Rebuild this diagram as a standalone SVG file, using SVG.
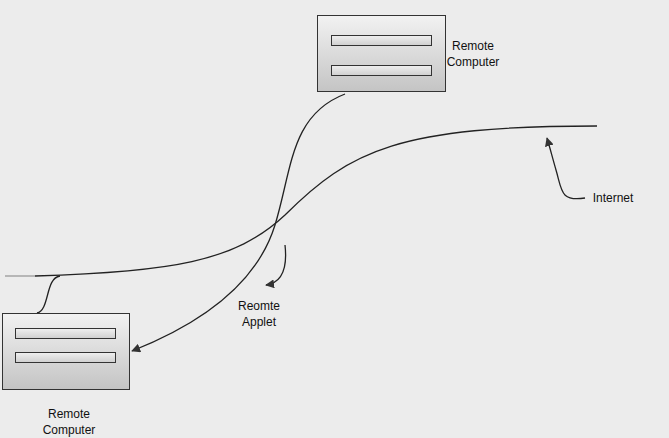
<svg xmlns="http://www.w3.org/2000/svg" width="669" height="438" viewBox="0 0 669 438">
<defs>
<linearGradient id="gBox" x1="0" y1="0" x2="0" y2="1">
<stop offset="0" stop-color="#f2f2f2"/>
<stop offset="1" stop-color="#c4c4c4"/>
</linearGradient>
<linearGradient id="gBar" x1="0" y1="0" x2="0" y2="1">
<stop offset="0" stop-color="#f0f0f0"/>
<stop offset="1" stop-color="#cfcfcf"/>
</linearGradient>
<marker id="arr" viewBox="0 0 10 10" refX="9" refY="5" markerWidth="9" markerHeight="9" orient="auto" markerUnits="userSpaceOnUse">
<path d="M0,0 L10,5 L0,10 Z" fill="#333"/>
</marker>
</defs>
<style>
.box{fill:url(#gBox);stroke:#333;stroke-width:1}
.bar{fill:url(#gBar);stroke:#333;stroke-width:1}
.ln{fill:none;stroke:#222;stroke-width:1.3}
.lbl{font-family:"Liberation Sans",Arial,sans-serif;font-size:12px;fill:#111;text-anchor:middle}
</style>
<rect width="669" height="438" fill="#ececec"/>
<g id="connectors">
<path d="M5 276 L35 276" stroke="#999" stroke-width="1.3" fill="none"/>
<path class="ln" d="M35 276 C170 272 235 262 285 215 C350 150 400 126 597 126"/>
<path class="ln" d="M37 313 C50 310 45 278 60 276"/>
<path class="ln" d="M345 94 C290 115 292 170 275 225 C255 290 190 328 132 351" marker-end="url(#arr)"/>
<path class="ln" d="M285 245 C288 272 280 283 266 285" marker-end="url(#arr)"/>
<path class="ln" d="M585 198 C560 202 562 190 556 170 C552 156 550 148 547 138" marker-end="url(#arr)"/>
</g>
<g id="remote-computer-top">
<rect class="box" x="317.5" y="15.5" width="128" height="76"/>
<rect class="bar" x="331.5" y="35.5" width="100" height="10"/>
<rect class="bar" x="331.5" y="65.5" width="100" height="10"/>
<text class="lbl" x="473" y="50">Remote</text>
<text class="lbl" x="473" y="66">Computer</text>
</g>
<g id="remote-computer-bottom">
<rect class="box" x="2.5" y="313.5" width="127" height="76"/>
<rect class="bar" x="15.5" y="328.5" width="100" height="10"/>
<rect class="bar" x="15.5" y="352.5" width="100" height="10"/>
<text class="lbl" x="69" y="418">Remote</text>
<text class="lbl" x="69" y="434">Computer</text>
</g>
<g id="remote-applet-label">
<text class="lbl" x="259" y="310">Reomte</text>
<text class="lbl" x="259" y="326">Applet</text>
</g>
<g id="internet-label">
<text class="lbl" x="613" y="202">Internet</text>
</g>
</svg>
